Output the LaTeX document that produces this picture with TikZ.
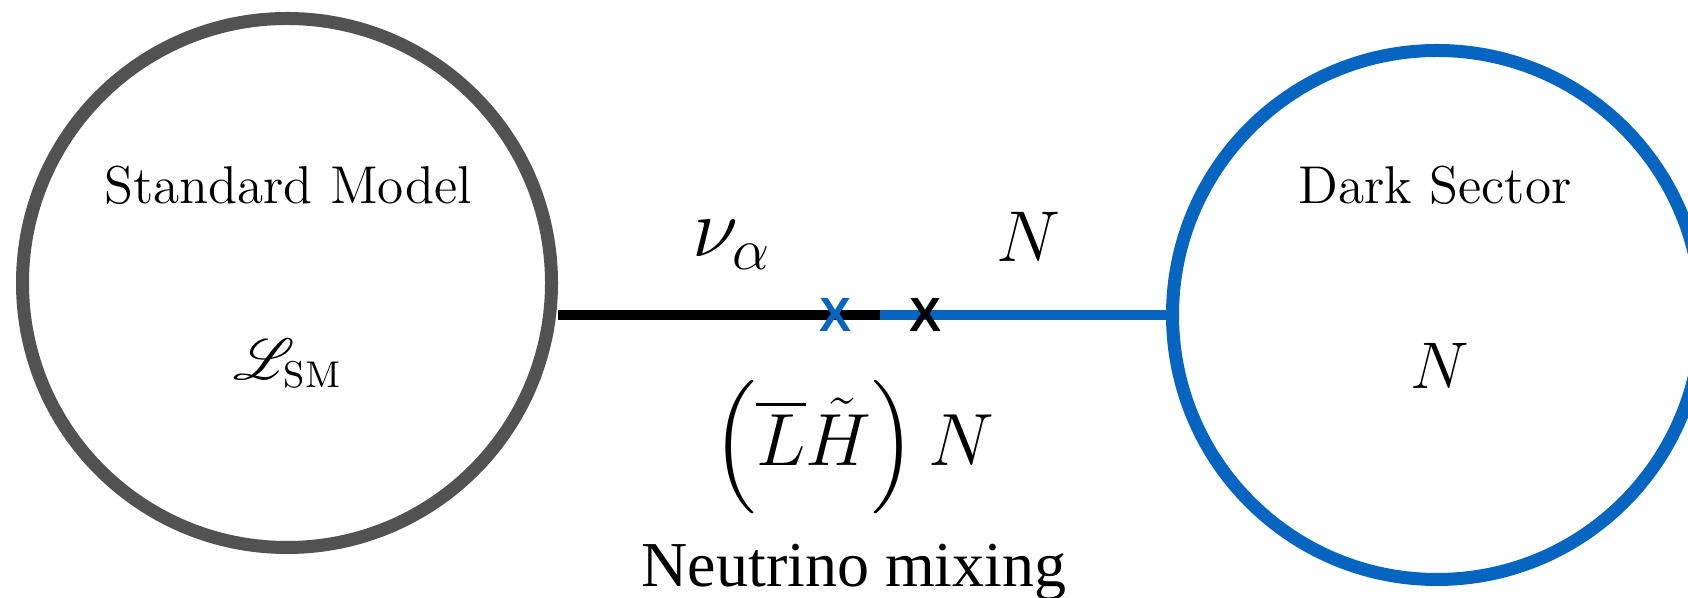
\RequirePackage{fix-cm}
\documentclass[tikz,border=0pt]{standalone}
\usepackage{amsmath,amssymb,mathrsfs}
\usepackage{fontspec}
\newfontfamily\mixfont{Liberation Serif}
\newfontfamily\markfont{Liberation Sans}
\usepackage{tikz}
\usetikzlibrary{positioning}
\definecolor{smgray}{HTML}{525252}
\definecolor{dsblue}{HTML}{0565C0}

\begin{document}
\begin{tikzpicture}[x=0.25pt,y=0.25pt,
    sector/.style={circle,draw,line width=3.25pt,minimum size=132.25pt,inner sep=0pt},
    leg/.style={line width=2.5pt},
    cross/.style={font=\markfont\bfseries\fontsize{12}{12}\selectfont,inner sep=0pt},
    every node/.style={font=\fontsize{13.3}{16}\selectfont}]
  \useasboundingbox (0,0) rectangle (1688,598);
  % the two sectors
  \node[sector,smgray] (sm) at (287,315) {};
  \node[sector,dsblue] (ds) at (1437,283) {};
  \node (smlabel) at (288,413) {Standard Model};
  \node (smlag) at (288,234) {$\mathscr{L}_{\text{SM}}$};
  \node (dslabel) at (1435,413) {Dark Sector};
  \node[font=\fontsize{16.5}{20}\selectfont] (dsfield) at (1440,232) {$N$};
  % the mixing line
  \coordinate (mix) at (880,283);
  \draw[leg] (sm.east |- mix) -- (mix);
  \draw[leg,dsblue] (mix) -- (ds);
  \node[cross,dsblue] (xnu) at (835,283) {X};
  \node[cross] (xn) at (925,283) {X};
  \node[font=\fontsize{21}{24}\selectfont] (nu) at (732,353) {$\nu_\alpha$};
  \node[font=\fontsize{18}{22}\selectfont] (nfield) at (1028,361) {$N$};
  \node[font=\fontsize{18.5}{22}\selectfont] (op) at (853,151) {$\Bigl(\overline{L}\tilde{H}\Bigr)\,N$};
  \node[font=\mixfont\fontsize{16}{19}\selectfont] (mixing) at (854,26) {Neutrino mixing};
\end{tikzpicture}
\end{document}
